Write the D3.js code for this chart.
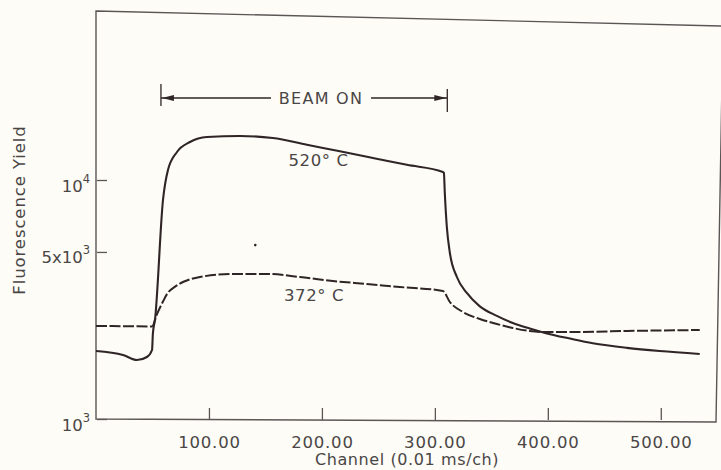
<!DOCTYPE html>
<html>
<head>
<meta charset="utf-8">
<script src="https://cdn.jsdelivr.net/npm/d3@7/dist/d3.min.js"></script>
<style>
  html, body { margin: 0; padding: 0; background: #fdfcf6; }
  svg { display: block; }
  text { font-family: "DejaVu Sans", sans-serif; fill: #4a4646; }
</style>
</head>
<body>
<svg id="chart" width="721" height="470"></svg>
<script>
// ---- data ----
const hotChannel = [0, 23.9, 36.3, 45.1, 49.6, 50.4, 52.2, 59.3, 63.7, 71.7, 83.2, 98.2, 127.4, 156.6, 186.7, 215.9, 245.1, 275.2, 307.1,
  308.0, 308.8, 310.6, 313.3, 319.5, 328.3, 339.8, 354.9, 369, 384, 399.1, 419.5, 439.8, 469.9, 499, 534.5];
const hotYield = [1925, 1852, 1765, 1817, 1944, 2290, 2596, 8247, 11010, 13100, 14420, 15130, 15280, 14990, 14040, 13180, 12365, 11576, 10800,
  10700, 8821, 6359, 4950, 3928, 3367, 2960, 2700, 2520, 2390, 2280, 2170, 2075, 1985, 1925, 1871];

const coolChannel = [0, 25, 49.6, 54, 59.3, 62.8, 70, 77, 92, 121.2, 151.3, 180.5, 209.7, 239.8, 269, 307.1,
  313.3, 324.8, 339.8, 354.9, 369, 384, 399, 428, 470, 534.5];
const coolYield = [2449, 2445, 2440, 2750, 3100, 3330, 3580, 3743, 3928, 4044, 4044, 3928, 3779, 3672, 3567, 3432,
  3087, 2804, 2621, 2498, 2403, 2334, 2310, 2312, 2335, 2357];

const seriesLabels = ["520° C", "372° C"];
const labelChannel = [197, 193];
const labelYield = [11400, 3130];

const xTicks = [100, 200, 300, 400, 500];
const yTicks = [1000, 5000, 10000];
const yTickBase = ["10", "5x10", "10"];
const yTickExp = ["3", "3", "4"];

const beamOn = [57.5, 311];      // channels where beam switched on / off
const beamLabel = "BEAM ON";
const speck = [141, 5340];       // stray dot on the original

const xTitle = "Channel (0.01 ms/ch)";
const yTitle = "Fluorescence Yield";

// ---- layout ----
const svg = d3.select("#chart");
const L = 96, R = 715, B = 419, T = 11;
const x = d3.scaleLinear().domain([0, 548]).range([L, R]);
const y = d3.scaleLog().domain([1000, Math.pow(10, 3 + (B - T) / 239)]).range([B, T]);

const ink = "#2f2526";
const axisInk = "#5a5656";

// frame (scanned page is slightly skewed)
svg.append("path")
  .attr("d", `M${L},${T} L${R + 8},${T + 15} L${R + 1},${B + 3} L${L},${B} Z`)
  .attr("fill", "none").attr("stroke", axisInk).attr("stroke-width", 1.4);

// x axis
const xAxis = d3.axisBottom(x).tickValues(xTicks).tickSizeInner(-12).tickSizeOuter(0)
  .tickFormat(d3.format(".2f")).tickPadding(16);
const gx = svg.append("g").attr("transform", `translate(0,${B + 1})`).call(xAxis);
gx.select(".domain").remove();
gx.selectAll(".tick line").attr("stroke", axisInk).attr("stroke-width", 1.3);
gx.selectAll(".tick text").attr("font-size", 16.5).attr("fill", "#4a4646")
  .attr("letter-spacing", 0.8).attr("font-family", "DejaVu Sans, sans-serif");

// y axis
const yAxis = d3.axisLeft(y).tickValues(yTicks).tickSizeInner(-10).tickSizeOuter(0).tickFormat("");
const gy = svg.append("g").attr("transform", `translate(${L + 1},0)`).call(yAxis);
gy.select(".domain").remove();
gy.selectAll(".tick line").attr("stroke", axisInk).attr("stroke-width", 1.3);
gy.selectAll(".tick").each(function (d, i) {
  const t = d3.select(this).append("text")
    .attr("x", -7).attr("y", 11).attr("text-anchor", "end")
    .attr("font-size", 16.5).attr("fill", "#4a4646");
  t.append("tspan").text(yTickBase[i]);
  t.append("tspan").attr("font-size", 11.5).attr("dy", -9).text(yTickExp[i]);
});

// axis titles
svg.append("text").attr("x", 407).attr("y", 465).attr("text-anchor", "middle")
  .attr("font-size", 16).attr("letter-spacing", 0.6).text(xTitle);
svg.append("text").attr("transform", "translate(25,210) rotate(-90)").attr("text-anchor", "middle")
  .attr("font-size", 16.5).attr("letter-spacing", 0.9).text(yTitle);

// curves
const line = d3.line().x(d => x(d[0])).y(d => y(d[1])).curve(d3.curveMonotoneX);
svg.append("path").datum(hotChannel.map((c, i) => [c, hotYield[i]]))
  .attr("d", line).attr("fill", "none").attr("stroke", ink).attr("stroke-width", 2.1);
svg.append("path").datum(coolChannel.map((c, i) => [c, coolYield[i]]))
  .attr("d", line).attr("fill", "none").attr("stroke", ink).attr("stroke-width", 2)
  .attr("stroke-dasharray", "11,2.5");

// series labels
seriesLabels.forEach((s, i) => {
  svg.append("text").attr("x", x(labelChannel[i])).attr("y", y(labelYield[i]))
    .attr("text-anchor", "middle").attr("font-size", 16.5).attr("letter-spacing", 0.6).text(s);
});

// beam-on marker
const by = 98;
const x0 = x(beamOn[0]), x1 = x(beamOn[1]);
const gb = svg.append("g").attr("stroke", ink).attr("stroke-width", 1.3);
gb.append("line").attr("x1", x0).attr("x2", x0).attr("y1", by - 14).attr("y2", by + 8);
gb.append("line").attr("x1", x1).attr("x2", x1).attr("y1", by - 9).attr("y2", by + 14);
gb.append("line").attr("x1", x0).attr("x2", 271).attr("y1", by).attr("y2", by);
gb.append("line").attr("x1", 371).attr("x2", x1).attr("y1", by).attr("y2", by);
svg.append("path").attr("d", `M${x0 + 1},${by} l12,-3 l0,6 Z`).attr("fill", ink);
svg.append("path").attr("d", `M${x1 - 1},${by} l-12,-3 l0,6 Z`).attr("fill", ink);
svg.append("text").attr("x", 321).attr("y", by + 6).attr("text-anchor", "middle")
  .attr("font-size", 16).attr("letter-spacing", 1.3).text(beamLabel);

// stray dot
svg.append("circle").attr("cx", x(speck[0])).attr("cy", y(speck[1])).attr("r", 1.3).attr("fill", ink);
</script>
</body>
</html>
